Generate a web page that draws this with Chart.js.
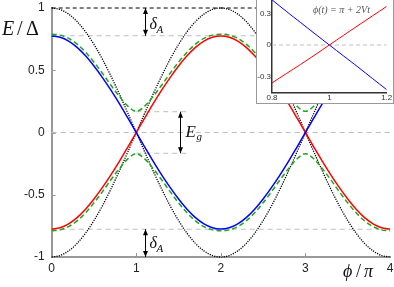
<!DOCTYPE html>
<html><head><meta charset="utf-8">
<script src="https://cdn.jsdelivr.net/npm/chart.js@4.4.1/dist/chart.umd.min.js"></script>
<style>
html,body{margin:0;padding:0;background:#fff;overflow:hidden}
#wrap{position:relative;width:394px;height:287px;overflow:hidden;background:#fff}
#main{position:absolute;left:0;top:0}
#insetBox{position:absolute;left:256px;top:-5px;width:136px;height:107px;border:1px solid #999;background:#fff}
#inset{position:absolute;left:0;top:0}
</style></head><body>
<div id="wrap"><canvas id="main" width="394" height="287"></canvas>
<div id="insetBox"><canvas id="inset" width="136" height="107"></canvas></div></div>
<script>
// ---- main plot data (phi in units of pi, E in units of Delta) ----
const phi = [0,0.1,0.2,0.3,0.4,0.5,0.6,0.7,0.8,0.9,1,1.1,1.2,1.3,1.4,1.5,1.6,1.7,1.8,1.9,2,
 2.1,2.2,2.3,2.4,2.5,2.6,2.7,2.8,2.9,3,3.1,3.2,3.3,3.4,3.5,3.6,3.7,3.8,3.9,4];
const blue = [0.775,0.765,0.734,0.684,0.616,0.534,0.441,0.34,0.232,0.117,0,
 -0.117,-0.232,-0.34,-0.441,-0.534,-0.616,-0.684,-0.734,-0.765,-0.775,
 -0.765,-0.734,-0.684,-0.616,-0.534,-0.441,-0.34,-0.232,-0.117,0,
 0.117,0.232,0.34,0.441,0.534,0.616,0.684,0.734,0.765,0.775];
const red = [-0.775,-0.765,-0.734,-0.684,-0.616,-0.534,-0.441,-0.34,-0.232,-0.117,0,
 0.117,0.232,0.34,0.441,0.534,0.616,0.684,0.734,0.765,0.775,
 0.765,0.734,0.684,0.616,0.534,0.441,0.34,0.232,0.117,0,
 -0.117,-0.232,-0.34,-0.441,-0.534,-0.616,-0.684,-0.734,-0.765,-0.775];
const greenUpper = [0.79,0.782,0.756,0.71,0.645,0.565,0.475,0.38,0.29,0.212,0.17,
 0.212,0.29,0.38,0.475,0.565,0.645,0.71,0.756,0.782,0.79,
 0.782,0.756,0.71,0.645,0.565,0.475,0.38,0.29,0.212,0.17,
 0.212,0.29,0.38,0.475,0.565,0.645,0.71,0.756,0.782,0.79];
const greenLower = [-0.79,-0.782,-0.756,-0.71,-0.645,-0.565,-0.475,-0.38,-0.29,-0.212,-0.17,
 -0.212,-0.29,-0.38,-0.475,-0.565,-0.645,-0.71,-0.756,-0.782,-0.79,
 -0.782,-0.756,-0.71,-0.645,-0.565,-0.475,-0.38,-0.29,-0.212,-0.17,
 -0.212,-0.29,-0.38,-0.475,-0.565,-0.645,-0.71,-0.756,-0.782,-0.79];
const blackA = [1,0.988,0.951,0.891,0.809,0.707,0.588,0.454,0.309,0.156,0,
 -0.156,-0.309,-0.454,-0.588,-0.707,-0.809,-0.891,-0.951,-0.988,-1,
 -0.988,-0.951,-0.891,-0.809,-0.707,-0.588,-0.454,-0.309,-0.156,0,
 0.156,0.309,0.454,0.588,0.707,0.809,0.891,0.951,0.988,1];
const blackB = [-1,-0.988,-0.951,-0.891,-0.809,-0.707,-0.588,-0.454,-0.309,-0.156,0,
 0.156,0.309,0.454,0.588,0.707,0.809,0.891,0.951,0.988,1,
 0.988,0.951,0.891,0.809,0.707,0.588,0.454,0.309,0.156,0,
 -0.156,-0.309,-0.454,-0.588,-0.707,-0.809,-0.891,-0.951,-0.988,-1];
const refRange = [0, 4];
const refLevels = [0.777, 0, -0.777];
const gapRange = [1, 1.6];
const gapLevels = [0.167, -0.167];
const topLevel = 1;
const xTicks = [0, 1, 2, 3, 4];
const xTickLabels = ['0', '1', '2', '3', '4'];
const yTicks = [-1, -0.5, 0, 0.5, 1];
const yTickLabels = ['-1', '-0.5', '0', '0.5', '1'];
// annotation arrows (data coords)
const deltaArrowX = 1.103;
const gapArrowX = 1.516;

// ---- inset data ----
const insetT = [0.8,0.85,0.9,0.95,1.0,1.05,1.1,1.15,1.2];
const insetRed = [-0.361,-0.272,-0.184,-0.093,0,0.093,0.185,0.276,0.367];
const insetBlue = [0.43,0.32,0.213,0.106,0,-0.105,-0.21,-0.318,-0.425];
const insetXTicks = [0.8, 1, 1.2];
const insetXLabels = ['0.8', '1', '1.2'];
const insetYTicks = [-0.3, 0, 0.3];
const insetYLabels = ['-0.3', '0', '0.3'];

const xy = (xs, ys) => xs.map((x, i) => ({x, y: ys[i]}));
const hline = (range, v) => range.map(x => ({x, y: v}));

const GRAY = 'rgb(190,190,190)';
const GREEN = '#1ea51e';
const curve = (data, color, extra) => Object.assign({data: xy(phi, data), borderColor: color, borderWidth: 1.5,
  pointRadius: 0, cubicInterpolationMode: 'monotone', fill: false, clip: false}, extra || {});
const ref = (data, color, dash, w) => ({data, borderColor: color, borderWidth: w || 1, borderDash: dash,
  pointRadius: 0, tension: 0, fill: false, clip: false});

const datasets = [
  curve(blue, '#0000ff'),
  curve(red, '#ff0000'),
  curve(greenUpper, GREEN, {borderDash: [5, 3]}),
  curve(greenLower, GREEN, {borderDash: [5, 3]}),
  curve(blackA, '#000', {borderDash: [1.2, 1.2], borderWidth: 1.3}),
  curve(blackB, '#000', {borderDash: [1.2, 1.2], borderWidth: 1.3}),
  ref(hline(refRange, topLevel), '#000', [4, 3]),
  ...refLevels.map(v => ref(hline(refRange, v), GRAY, [5, 4])),
  ...gapLevels.map(v => ref(hline(gapRange, v), GRAY, [5, 4]))
];

function arrow(ctx, px, y1, y2, head) {
  ctx.beginPath(); ctx.moveTo(px, y1); ctx.lineTo(px, y2); ctx.stroke();
  const dir = y2 > y1 ? 1 : -1;
  [[y1, -dir], [y2, dir]].forEach(([tip, d]) => {
    ctx.beginPath(); ctx.moveTo(px, tip); ctx.lineTo(px - 2.5, tip - d * head); ctx.lineTo(px + 2.5, tip - d * head);
    ctx.closePath(); ctx.fill();
  });
}

const decor = {
  id: 'decor',
  afterDraw(chart) {
    const {ctx, scales: {x, y}} = chart;
    ctx.save();
    ctx.strokeStyle = '#999'; ctx.lineWidth = 1;
    xTicks.forEach(v => { if (v > 0 && v < 4) { const p = Math.round(x.getPixelForValue(v)) + 0.5;
      ctx.beginPath(); ctx.moveTo(p, y.bottom); ctx.lineTo(p, y.bottom - 4); ctx.stroke(); } });
    yTicks.forEach(v => { if (v > -1 && v < 1) { const p = Math.round(y.getPixelForValue(v)) + 0.5;
      ctx.beginPath(); ctx.moveTo(x.left, p); ctx.lineTo(x.left + 4, p); ctx.stroke(); } });
    // arrows
    ctx.strokeStyle = '#000'; ctx.fillStyle = '#000'; ctx.lineWidth = 1;
    const ax = Math.round(x.getPixelForValue(deltaArrowX)) + 0.5;
    arrow(ctx, ax, y.getPixelForValue(1), y.getPixelForValue(refLevels[0]), 6);
    arrow(ctx, ax, y.getPixelForValue(refLevels[2]), y.getPixelForValue(-1), 6);
    const gx = Math.round(x.getPixelForValue(gapArrowX)) + 0.5;
    arrow(ctx, gx, y.getPixelForValue(gapLevels[0]), y.getPixelForValue(gapLevels[1]), 6);
    // labels
    const serif = '"Liberation Serif","DejaVu Serif",serif';
    ctx.fillStyle = '#111'; ctx.textBaseline = 'alphabetic'; ctx.textAlign = 'left';
    ctx.font = 'italic 16px ' + serif; ctx.fillText('δ', ax + 4, 29);
    ctx.font = 'italic 11px ' + serif; ctx.fillText('A', ax + 11, 33);
    ctx.font = 'italic 16px ' + serif; ctx.fillText('δ', ax + 4, 248);
    ctx.font = 'italic 11px ' + serif; ctx.fillText('A', ax + 11, 252);
    ctx.font = 'italic 17px ' + serif; ctx.fillText('E', gx + 5, 137);
    ctx.font = 'italic 11px ' + serif; ctx.fillText('g', gx + 16, 140);
    // axis titles
    ctx.font = 'italic 20px ' + serif; ctx.fillText('E', 2, 35);
    ctx.font = '20px ' + serif; ctx.fillText('/', 17, 35); ctx.fillText('Δ', 26, 35);
    ctx.font = 'italic 18px ' + serif; ctx.fillText('ϕ', 343, 277);
    ctx.font = '18px ' + serif; ctx.fillText('/', 356, 277);
    ctx.font = 'italic 18px ' + serif; ctx.fillText('π', 364, 277);
    ctx.restore();
  }
};

const noPad = s => { s.paddingTop = 0; s.paddingBottom = 0; s.paddingLeft = 0; s.paddingRight = 0; };

new Chart(document.getElementById('main'), {
  type: 'line',
  data: {datasets},
  options: {
    responsive: false, animation: false, devicePixelRatio: 1,
    layout: {padding: {left: 0, top: 8, right: 4, bottom: 0}},
    plugins: {legend: {display: false}, tooltip: {enabled: false}},
    scales: {
      x: {type: 'linear', min: 0, max: 4,
        afterFit: s => { s.height = 30; noPad(s); },
        afterBuildTicks: s => { s.ticks = xTicks.map(v => ({value: v})); },
        ticks: {padding: 4, color: '#222', maxRotation: 0, autoSkip: false,
          font: {family: '"Liberation Sans", Arial', size: 12},
          callback: (v) => xTickLabels[xTicks.indexOf(v)]},
        grid: {display: false, drawTicks: false},
        border: {display: true, color: '#999', width: 2}},
      y: {type: 'linear', min: -1, max: 1,
        afterFit: s => { s.width = 51.7; noPad(s); },
        afterBuildTicks: s => { s.ticks = yTicks.map(v => ({value: v})); },
        ticks: {padding: 7, color: '#222', autoSkip: false,
          font: {family: '"Liberation Sans", Arial', size: 12},
          callback: (v) => yTickLabels[yTicks.indexOf(v)]},
        grid: {display: false, drawTicks: false},
        border: {display: true, color: '#999', width: 2}}
    }
  },
  plugins: [decor]
});

const insetDecor = {
  id: 'insetDecor',
  afterDraw(chart) {
    const {ctx} = chart;
    ctx.save();
    ctx.fillStyle = '#555'; ctx.textAlign = 'left'; ctx.textBaseline = 'alphabetic';
    ctx.font = 'italic 10px "Liberation Serif","DejaVu Serif",serif';
    ctx.fillText('ϕ(t) = π + 2Vt', 56, 17);
    ctx.restore();
  }
};

new Chart(document.getElementById('inset'), {
  type: 'line',
  data: {datasets: [
    {data: xy(insetT, insetBlue), borderColor: '#0000ff', borderWidth: 1, pointRadius: 0, tension: 0.3},
    {data: xy(insetT, insetRed), borderColor: '#ff0000', borderWidth: 1, pointRadius: 0, tension: 0.3},
    {data: hline([0.8, 1.2], 0), borderColor: GRAY, borderWidth: 1, borderDash: [4, 3], pointRadius: 0}
  ]},
  options: {
    responsive: false, animation: false, devicePixelRatio: 1,
    layout: {padding: {left: 0, top: 1.7, right: 6.3, bottom: 0}},
    plugins: {legend: {display: false}, tooltip: {enabled: false}},
    scales: {
      x: {type: 'linear', min: 0.8, max: 1.2,
        afterFit: s => { s.height = 10.7; noPad(s); },
        afterBuildTicks: s => { s.ticks = insetXTicks.map(v => ({value: v})); },
        ticks: {padding: 1, color: '#333', maxRotation: 0, autoSkip: false,
          font: {family: '"Liberation Sans", Arial', size: 8},
          callback: (v) => insetXLabels[insetXTicks.indexOf(v)]},
        grid: {display: false, drawTicks: false},
        border: {display: true, color: '#333', width: 1.5}},
      y: {type: 'linear', min: -0.45, max: 0.45,
        afterFit: s => { s.width = 15; noPad(s); },
        afterBuildTicks: s => { s.ticks = insetYTicks.map(v => ({value: v})); },
        ticks: {padding: 1, color: '#333', autoSkip: false,
          font: {family: '"Liberation Sans", Arial', size: 8},
          callback: (v) => insetYLabels[insetYTicks.indexOf(v)]},
        grid: {display: false, drawTicks: false},
        border: {display: true, color: '#333', width: 1.5}}
    }
  },
  plugins: [insetDecor]
});
</script>
</body></html>
